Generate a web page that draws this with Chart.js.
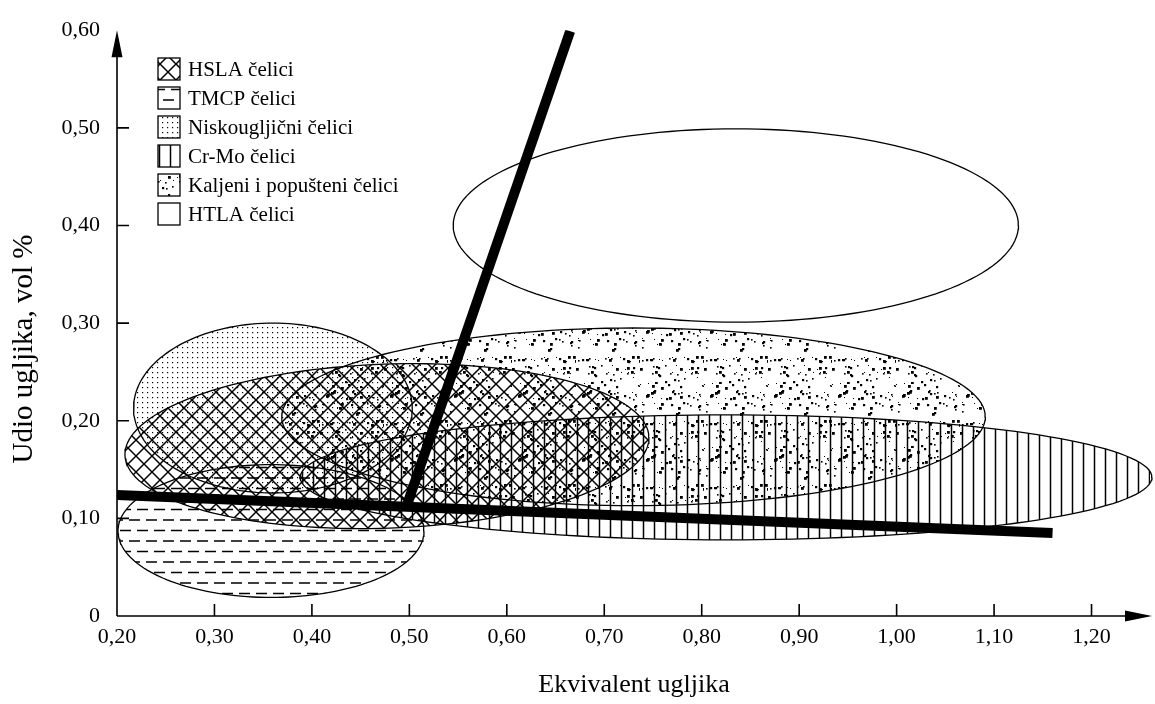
<!DOCTYPE html>
<html>
<head>
<meta charset="utf-8">
<script src="https://cdn.jsdelivr.net/npm/chart.js@4.4.1/dist/chart.umd.min.js"></script>
<style>
  html, body { margin: 0; padding: 0; background: #fff; }
  #wrap { width: 1155px; height: 704px; }
</style>
</head>
<body>
<div id="wrap"><canvas id="steelChart" width="1155" height="704"></canvas></div>
<script>
// steel groups (legend order)
const steelNames = ['HSLA čelici', 'TMCP čelici', 'Niskougljični čelici', 'Cr-Mo čelici', 'Kaljeni i popušteni čelici', 'HTLA čelici'];
// regions: centre (CE, C), half spread (CE, C), tilt in degrees
const centerCE = [0.477, 0.358, 0.360, 0.825, 0.730, 0.835];
const centerC  = [0.174, 0.087, 0.213, 0.142, 0.204, 0.400];
const halfCE   = [0.269, 0.157, 0.143, 0.437, 0.361, 0.290];
const halfC    = [0.084, 0.068, 0.087, 0.064, 0.091, 0.099];
const tiltDeg  = [2, 0, 0, 0, 0, 0];

// the two thick boundary lines
const lowLineCE = [0.20, 1.16];
const lowLineC  = [0.124, 0.085];
const steepLineCE = [0.498, 0.665];
const steepLineC  = [0.115, 0.599];

const xTicks = [0.2, 0.3, 0.4, 0.5, 0.6, 0.7, 0.8, 0.9, 1.0, 1.1, 1.2];
const yTicks = [0, 0.1, 0.2, 0.3, 0.4, 0.5, 0.6];
const xTitle = 'Ekvivalent ugljika';
const yTitle = 'Udio ugljika, vol %';

const serif = '"Liberation Serif", "DejaVu Serif", serif';
const canvas = document.getElementById('steelChart');
const mainCtx = canvas.getContext('2d');

function makePattern(w, h, draw) {
    const c = document.createElement('canvas');
    c.width = w; c.height = h;
    const g = c.getContext('2d');
    g.fillStyle = '#000';
    g.strokeStyle = '#000';
    draw(g, w, h);
    return mainCtx.createPattern(c, 'repeat');
}

// fill textures
const crossHatch = makePattern(16, 16, (g) => {
    g.lineWidth = 1.5;
    for (const o of [-16, 0, 16]) {
        g.beginPath();
        g.moveTo(o, 0); g.lineTo(o + 16, 16);
        g.moveTo(o + 16, 0); g.lineTo(o, 16);
        g.stroke();
    }
});
const dashes = makePattern(34, 21, (g) => {
    g.lineWidth = 1.3;
    g.beginPath();
    g.moveTo(1, 5.5); g.lineTo(12, 5.5);
    g.moveTo(18, 5.5); g.lineTo(29, 5.5);
    g.moveTo(-7, 16); g.lineTo(4, 16);
    g.moveTo(10, 16); g.lineTo(21, 16);
    g.moveTo(27, 16); g.lineTo(38, 16);
    g.stroke();
});
const fineDots = makePattern(5, 5, (g) => {
    g.fillRect(2, 2, 1.2, 1.2);
});
const vLines = makePattern(11, 11, (g) => {
    g.lineWidth = 1.5;
    g.beginPath(); g.moveTo(5.5, 0); g.lineTo(5.5, 11); g.stroke();
});
const speckle = makePattern(64, 64, (g) => {
    for (let i = 0; i < 95; i++) {
        const x = (i * 37 + (i * i) % 23) % 64;
        const y = (i * 53 + (i * i * 7) % 29) % 64;
        const s = 1 + (i % 4) * 0.6;
        g.fillRect(x, y, s, s);
    }
});
const fills = [crossHatch, dashes, fineDots, vLines, speckle, null];

function ellipsePoints(i) {
    const pts = [];
    const t = tiltDeg[i] * Math.PI / 180;
    for (let k = 0; k <= 160; k++) {
        const a = k / 160 * 2 * Math.PI;
        const ex = halfCE[i] * Math.cos(a);
        const ey = halfC[i] * Math.sin(a);
        pts.push({
            x: centerCE[i] + ex * Math.cos(t) - ey * Math.sin(t),
            y: centerC[i] + ex * Math.sin(t) + ey * Math.cos(t)
        });
    }
    return pts;
}

const datasets = [
    {
        label: 'lowLine',
        data: lowLineCE.map((x, i) => ({ x: x, y: lowLineC[i] })),
        showLine: true, borderColor: '#000', borderWidth: 10, pointRadius: 0,
        borderCapStyle: 'butt', fill: false
    },
    {
        label: 'steepLine',
        data: steepLineCE.map((x, i) => ({ x: x, y: steepLineC[i] })),
        showLine: true, borderColor: '#000', borderWidth: 10, pointRadius: 0,
        borderCapStyle: 'butt', fill: false
    }
];
steelNames.forEach((name, i) => {
    datasets.push({
        label: name,
        data: ellipsePoints(i),
        showLine: true,
        borderColor: '#000',
        borderWidth: 1.3,
        pointRadius: 0,
        tension: 0,
        fill: fills[i] ? 'shape' : false,
        backgroundColor: fills[i] || 'rgba(0,0,0,0)',
        clip: false
    });
});

const fmt = (v) => v === 0 ? '0' : v.toFixed(2).replace('.', ',');

// axes with arrows, inner ticks, titles and the legend
const decorPlugin = {
    id: 'decor',
    afterDraw(chart) {
        const ctx = chart.ctx;
        const xs = chart.scales.x, ys = chart.scales.y;
        const { left, right, top, bottom } = chart.chartArea;
        ctx.save();
        ctx.strokeStyle = '#000';
        ctx.fillStyle = '#000';
        ctx.lineWidth = 1.6;
        ctx.beginPath();
        ctx.moveTo(left, bottom); ctx.lineTo(left, top + 20);
        ctx.moveTo(left, bottom); ctx.lineTo(right - 20, bottom);
        xTicks.slice(1).forEach(v => {
            const px = xs.getPixelForValue(v);
            ctx.moveTo(px, bottom); ctx.lineTo(px, bottom - 12);
        });
        yTicks.slice(1, -1).forEach(v => {
            const py = ys.getPixelForValue(v);
            ctx.moveTo(left, py); ctx.lineTo(left + 12, py);
        });
        ctx.stroke();
        // arrow heads
        ctx.beginPath();
        ctx.moveTo(left, top); ctx.lineTo(left - 5.5, top + 27); ctx.lineTo(left + 5.5, top + 27); ctx.closePath();
        ctx.fill();
        ctx.beginPath();
        ctx.moveTo(right + 2, bottom); ctx.lineTo(right - 25, bottom - 5.5); ctx.lineTo(right - 25, bottom + 5.5); ctx.closePath();
        ctx.fill();

        // titles
        ctx.textAlign = 'center';
        ctx.textBaseline = 'middle';
        ctx.font = '26px ' + serif;
        ctx.fillText(xTitle, 634, 685);
        ctx.save();
        ctx.translate(24, 349);
        ctx.rotate(-Math.PI / 2);
        ctx.font = '29px ' + serif;
        ctx.fillText(yTitle, 0, 0);
        ctx.restore();

        // legend
        ctx.textAlign = 'left';
        ctx.font = '21px ' + serif;
        ctx.lineWidth = 1.3;
        steelNames.forEach((name, i) => {
            const cy = 69 + i * 29;
            if (fills[i]) {
                ctx.fillStyle = fills[i];
                ctx.fillRect(158, cy - 11, 22, 22);
            }
            ctx.strokeRect(158, cy - 11, 22, 22);
            ctx.fillStyle = '#000';
            ctx.fillText(name, 188, cy + 1);
        });
        ctx.restore();
    }
};

new Chart(canvas, {
    type: 'scatter',
    data: { datasets: datasets },
    options: {
        responsive: false,
        animation: false,
        events: [],
        layout: { padding: { top: 24, right: 5, left: 0, bottom: 0 } },
        plugins: {
            legend: { display: false },
            tooltip: { enabled: false }
        },
        scales: {
            x: {
                type: 'linear',
                min: 0.2,
                max: 1.26,
                afterBuildTicks: (s) => { s.ticks = xTicks.map(v => ({ value: v })); },
                afterFit: (s) => { s.height = 88; },
                grid: { display: false, drawTicks: false },
                border: { display: false },
                ticks: {
                    padding: 8,
                    color: '#000',
                    font: { family: serif, size: 22 },
                    maxRotation: 0,
                    autoSkip: false,
                    callback: (v) => fmt(v)
                }
            },
            y: {
                type: 'linear',
                min: 0,
                max: 0.6,
                afterBuildTicks: (s) => { s.ticks = yTicks.map(v => ({ value: v })); },
                afterFit: (s) => { s.width = 117; },
                grid: { display: false, drawTicks: false },
                border: { display: false },
                ticks: {
                    padding: 17,
                    color: '#000',
                    font: { family: serif, size: 22 },
                    autoSkip: false,
                    callback: (v) => fmt(v)
                }
            }
        }
    },
    plugins: [decorPlugin]
});
</script>
</body>
</html>
